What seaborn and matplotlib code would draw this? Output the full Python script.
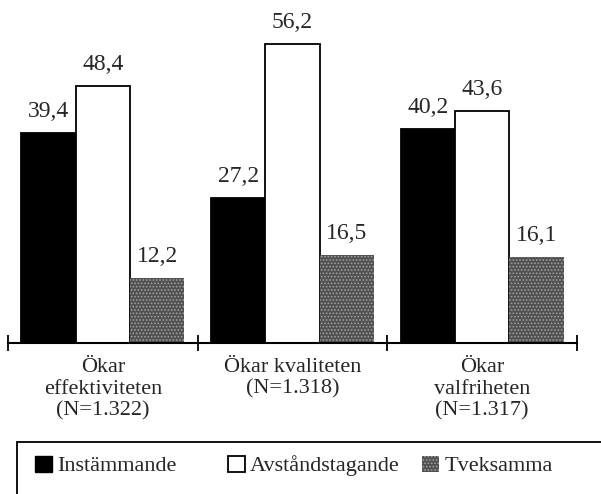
import pandas as pd
import matplotlib.pyplot as plt
import seaborn as sns
from matplotlib.patches import Patch, Rectangle

# data
categories = ["Ökar\neffektiviteten\n(N=1.322)", "Ökar kvaliteten\n(N=1.318)", "Ökar\nvalfriheten\n(N=1.317)"]
series = ["Instämmande", "Avståndstagande", "Tveksamma"]
instammande = [39.4, 27.2, 40.2]
avstandstagande = [48.4, 56.2, 43.6]
tveksamma = [12.2, 16.5, 16.1]

colors = {"Instämmande": "black", "Avståndstagande": "white", "Tveksamma": "#505050"}

df = pd.DataFrame({
    "kategori": categories * 3,
    "svar": [s for s in series for _ in categories],
    "andel": instammande + avstandstagande + tveksamma,
})

sns.set_style("white")
plt.rcParams["font.family"] = ["Liberation Serif", "DejaVu Serif"]
plt.rcParams["hatch.linewidth"] = 0.8

fig = plt.figure(figsize=(6.01, 4.94), dpi=100)
ax = fig.add_axes([8 / 601, 151 / 494, 569 / 601, 343 / 494])

sns.barplot(
    data=df, x="kategori", y="andel", hue="svar", hue_order=series,
    palette=colors, width=0.86, saturation=1, edgecolor="black",
    linewidth=1.3, legend=False, ax=ax,
)

# speckled gray bars
for bar in ax.containers[2]:
    bar.set_hatch(".....")
    bar.set_edgecolor("#a0a0a0")
    bar.set_linewidth(0)

for cont in ax.containers:
    ax.bar_label(cont, labels=[f"{b.get_height():.1f}".replace(".", ",") for b in cont],
                 padding=8, fontsize=17)

ax.set_xlim(-0.5, 2.5)
ax.set_ylim(0, 64.5)
ax.set_xlabel("")
ax.set_ylabel("")
ax.set_yticks([])
for side in ["left", "top", "right"]:
    ax.spines[side].set_visible(False)
ax.spines["bottom"].set_linewidth(1.5)
ax.spines["bottom"].set_color("black")

ax.set_xticks([-0.5, 0.5, 1.5, 2.5], minor=True)
ax.tick_params(axis="x", which="minor", bottom=True, direction="inout", length=11, width=1.3, color="black")
ax.tick_params(axis="x", which="major", bottom=True, length=0, pad=11, labelsize=16)
for lbl in ax.get_xticklabels():
    lbl.set_linespacing(1.17)

# legend box
fig.add_artist(Rectangle((17 / 601, -0.1), 1.0, 52 / 494 + 0.1, transform=fig.transFigure,
                         fill=False, edgecolor="black", linewidth=1.3, clip_on=False))

handles = [
    Patch(facecolor="black", edgecolor="black", linewidth=1.0),
    Patch(facecolor="white", edgecolor="black", linewidth=1.3),
    Patch(facecolor="#505050", edgecolor="#a0a0a0", hatch=".....", linewidth=0),
]
anchors = [35 / 601, 228 / 601, 422 / 601]
for h, name, xa in zip(handles, series, anchors):
    fig.legend([h], [name], loc="center left", bbox_to_anchor=(xa, 28 / 494),
               frameon=False, fontsize=16, borderpad=0, borderaxespad=0,
               handlelength=0.75, handleheight=0.75, handletextpad=0.25)

fig.savefig("out.png", dpi=100)
